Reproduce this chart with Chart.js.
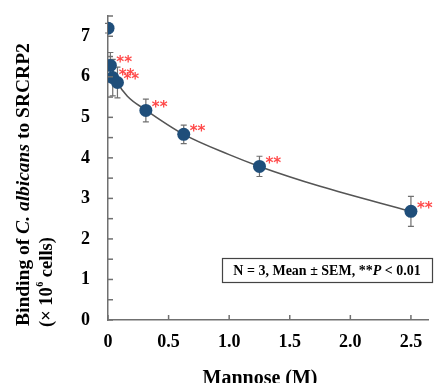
<!DOCTYPE html>
<html lang="en">
<head>
  <meta charset="UTF-8">
  <title>Binding of C. albicans to SRCRP2</title>
  <script src="https://cdn.jsdelivr.net/npm/chart.js"></script>
  <style>
    html, body {
      margin: 0;
      padding: 0;
      background: #fff;
    }

    #wrap {
      width: 435px;
      height: 383px;
      position: relative;
    }
  </style>
</head>
<body>

  <div id="wrap">
    <canvas id="chart" width="435" height="383"></canvas>
  </div>

  <script>
    // mannose concentration (M) and binding (x10^6 cells)
    const mannose = [0, 0.0195, 0.039, 0.078, 0.3125, 0.625, 1.25, 2.5];
    const binding = [7.2, 6.28, 5.98, 5.86, 5.17, 4.58, 3.79, 2.68];
    const sem = [0.12, 0.32, 0.45, 0.38, 0.28, 0.23, 0.25, 0.37];
    const signif = ['', '**', '**', '**', '**', '**', '**', '**'];

    // fitted curve
    const fitX = [0.0195, 0.08, 0.16, 0.3125, 0.625, 1.0, 1.25, 1.75, 2.5];
    const fitY = [6.3, 5.85, 5.52, 5.18, 4.58, 4.08, 3.79, 3.3, 2.68];

    const xTicks = [0, 0.5, 1.0, 1.5, 2.0, 2.5];
    const yTicks = [0, 1, 2, 3, 4, 5, 6, 7];

    const SERIF = '"Liberation Serif", "Times New Roman", serif';

    const points = mannose.map((x, i) => ({ x: x, y: binding[i] }));
    const fit = fitX.map((x, i) => ({ x: x, y: fitY[i] }));

    // error bars, inward tick marks, stars, texts
    const extras = {
      id: 'extras',
      beforeDatasetsDraw(chart) {
        const ctx = chart.ctx;
        const xs = chart.scales.x, ys = chart.scales.y;
        ctx.save();
        ctx.strokeStyle = '#707070';
        ctx.lineWidth = 1.2;
        mannose.forEach((m, i) => {
          const px = xs.getPixelForValue(m);
          const top = ys.getPixelForValue(binding[i] + sem[i]);
          const bot = ys.getPixelForValue(binding[i] - sem[i]);
          ctx.beginPath();
          ctx.moveTo(px, top); ctx.lineTo(px, bot);
          ctx.moveTo(px - 3, top); ctx.lineTo(px + 3, top);
          ctx.moveTo(px - 3, bot); ctx.lineTo(px + 3, bot);
          ctx.stroke();
        });
        ctx.restore();
      },
      afterDraw(chart) {
        const ctx = chart.ctx;
        const xs = chart.scales.x, ys = chart.scales.y;
        const area = chart.chartArea;
        ctx.save();

        // tick marks pointing inside
        ctx.strokeStyle = '#707070';
        ctx.lineWidth = 1.5;
        ys.ticks.forEach(t => {
          const py = ys.getPixelForValue(t.value);
          ctx.beginPath();
          ctx.moveTo(area.left, py);
          ctx.lineTo(area.left + 5, py);
          ctx.stroke();
        });
        xTicks.forEach(v => {
          const px = xs.getPixelForValue(v);
          ctx.beginPath();
          ctx.moveTo(px, area.bottom);
          ctx.lineTo(px, area.bottom - 5);
          ctx.stroke();
        });

        // significance stars
        ctx.fillStyle = '#ff4a4a';
        ctx.font = 'bold 15px "DejaVu Sans", sans-serif';
        ctx.textAlign = 'left';
        ctx.textBaseline = 'middle';
        mannose.forEach((m, i) => {
          if (!signif[i]) return;
          const px = xs.getPixelForValue(m);
          const py = ys.getPixelForValue(binding[i]);
          ctx.fillText(signif[i], px + 6, py - 2);
        });

        // y axis title, rotated
        ctx.fillStyle = '#000';
        ctx.save();
        ctx.translate(29, 326);
        ctx.rotate(-Math.PI / 2);
        ctx.textBaseline = 'alphabetic';
        let x = 0;
        const parts = [
          ['bold 19.5px ' + SERIF, 'Binding of '],
          ['italic bold 19.5px ' + SERIF, 'C. albicans'],
          ['bold 19.5px ' + SERIF, ' to SRCRP2']
        ];
        parts.forEach(p => {
          ctx.font = p[0];
          ctx.fillText(p[1], x, 0);
          x += ctx.measureText(p[1]).width;
        });
        ctx.restore();

        ctx.save();
        ctx.translate(47, 327);
        ctx.rotate(-Math.PI / 2);
        ctx.font = 'bold 18.5px ' + SERIF;
        ctx.fillText('(\u00d7 10', 0, 0);
        let w = ctx.measureText('(\u00d7 10').width;
        ctx.font = 'bold 10px ' + SERIF;
        ctx.fillText('6', w + 0.5, -7);
        w += ctx.measureText('6').width + 5;
        ctx.font = 'bold 18.5px ' + SERIF;
        ctx.fillText('cells)', w, 0);
        ctx.restore();

        // x axis title
        ctx.font = 'bold 20px ' + SERIF;
        ctx.textAlign = 'center';
        ctx.textBaseline = 'middle';
        ctx.fillText('Mannose (M)', 260, 379);

        // note box
        ctx.strokeStyle = '#444';
        ctx.lineWidth = 1.2;
        ctx.strokeRect(222.5, 258.5, 210, 24);
        const note = [
          ['bold 14px ' + SERIF, 'N = 3, Mean \u00b1 SEM, **'],
          ['italic bold 14px ' + SERIF, 'P'],
          ['bold 14px ' + SERIF, ' < 0.01']
        ];
        let total = 0;
        note.forEach(p => { ctx.font = p[0]; total += ctx.measureText(p[1]).width; });
        let nx = 327 - total / 2;
        ctx.textAlign = 'left';
        note.forEach(p => {
          ctx.font = p[0];
          ctx.fillText(p[1], nx, 271);
          nx += ctx.measureText(p[1]).width;
        });

        ctx.restore();
      }
    };

    new Chart(document.getElementById('chart').getContext('2d'), {
      type: 'scatter',
      data: {
        datasets: [
          {
            label: 'Binding',
            data: points,
            pointRadius: 6.5,
            pointHoverRadius: 6.5,
            pointBackgroundColor: '#1f4e7a',
            pointBorderColor: '#1f4e7a',
            pointBorderWidth: 0,
            showLine: false,
            order: 0
          },
          {
            label: 'Fit',
            data: fit,
            showLine: true,
            pointRadius: 0,
            borderColor: '#555',
            borderWidth: 1.6,
            cubicInterpolationMode: 'monotone',
            order: 1
          }
        ]
      },
      plugins: [extras],
      options: {
        responsive: false,
        animation: false,
        layout: { padding: { top: 16, right: 0, left: 0, bottom: 0 } },
        plugins: {
          legend: { display: false },
          tooltip: { enabled: false }
        },
        scales: {
          x: {
            type: 'linear',
            min: 0,
            max: 2.645,
            afterFit: s => {
              s.height = 63;
              s.paddingLeft = 0;
              s.paddingRight = 0;
            },
            afterBuildTicks: s => { s.ticks = xTicks.map(v => ({ value: v })); },
            grid: { display: true, drawOnChartArea: false, drawTicks: false },
            border: { display: true, color: '#707070', width: 1.5 },
            ticks: {
              autoSkip: false,
              maxRotation: 0,
              padding: 12,
              color: '#000',
              font: { family: SERIF, size: 18, weight: 'bold' },
              callback: v => v === 0 ? '0' : v.toFixed(1)
            }
          },
          y: {
            min: 0,
            max: 7.5,
            afterFit: s => {
              s.width = 108;
              s.paddingTop = 0;
              s.paddingBottom = 0;
            },
            grid: { display: true, drawOnChartArea: false, drawTicks: false },
            border: { display: true, color: '#707070', width: 1.5 },
            ticks: {
              stepSize: 0.5,
              autoSkip: false,
              padding: 18,
              color: '#000',
              font: { family: SERIF, size: 18, weight: 'bold' },
              callback: v => yTicks.includes(v) ? String(v) : ''
            }
          }
        }
      }
    });
  </script>

</body>
</html>
